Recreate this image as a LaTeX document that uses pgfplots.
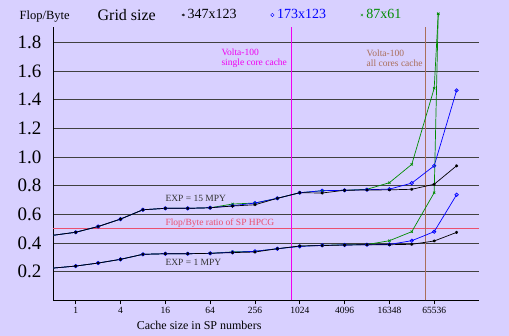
\documentclass[border=0pt]{standalone}
\usepackage{pgfplots}
\pgfplotsset{compat=1.18}
\usepackage{fontspec}
\setmainfont{Liberation Serif}
\definecolor{bgcol}{RGB}{216,208,255}
\definecolor{voltamag}{RGB}{240,0,240}
\definecolor{voltabrn}{RGB}{170,110,90}
\definecolor{hpcgred}{RGB}{235,80,110}
\definecolor{grn}{RGB}{0,140,0}
\pgfplotstableread{
x y
9.63 0
9.63 1.91
}\magline
\pgfplotstableread{
x y
15.61 0
15.61 1.91
}\brnline
\begin{document}
\begin{tikzpicture}
\fill[bgcol] (-53.3pt,-35.7pt) rectangle (455.7pt,300.3pt);
\begin{axis}[
  at={(0pt,0pt)}, anchor=south west,
  scale only axis, width=425.7pt, height=273.6pt,
  xmin=-1, xmax=18, ymin=0, ymax=1.91,
  axis x line=bottom, axis y line=left,
  axis line style={-, line width=1pt, black},
  clip=false,
  xtick={0,2,4,6,8,10,12,14,16},
  xticklabels={1,4,16,64,256,1024,4096,16348,65536},
  ytick={0.2,0.4,0.6,0.8,1.0,1.2,1.4,1.6,1.8},
  yticklabels={0.2,0.4,0.6,0.8,1.0,1.2,1.4,1.6,1.8},
  tick align=outside, major tick length=4pt,
  xtick style={black, line width=0.8pt},
  ytick style={draw=none},
  ymajorgrids, grid style={black!75, line width=0.8pt},
  yticklabel style={font=\fontsize{19}{19}\selectfont, inner sep=0pt, xshift=-7.6pt},
  xticklabel style={font=\fontsize{9.5}{9.5}\selectfont, inner sep=0pt, yshift=-2.4pt},
  legend columns=3,
  legend style={draw=none, fill=none, at={(0.2279,1.0428)}, anchor=west,
    inner sep=0pt, column sep=0pt, font=\fontsize{14}{14}\selectfont,
    nodes={inner xsep=3pt, inner ysep=1pt}},
  legend image code/.code={\path[draw=none,fill=none] (-32.7pt,0pt) (1.5pt,0pt);
    \draw[#1] plot coordinates {(0pt,0pt)};},
]
\addlegendimage{only marks, mark=asterisk, mark size=1.5pt, black}
\addlegendentry{\textcolor{black}{347x123}}
\addlegendimage{only marks, mark=o, mark size=1.7pt, blue}
\addlegendentry{\textcolor{blue}{173x123}}
\addlegendimage{only marks, mark=x, mark size=1.6pt, grn}
\addlegendentry{\textcolor{grn}{87x61}}

% reference lines
\addplot[draw=hpcgred, line width=1.4pt, forget plot] coordinates {(-1,0.5) (18,0.5)};
\addplot[draw=voltamag, line width=1.6pt, forget plot] table[x=x, y=y] {\magline};
\addplot[draw=voltabrn, line width=1.6pt, forget plot] table[x=x, y=y] {\brnline};

% EXP = 15 MPY
\addplot[grn, line width=0.7pt, mark=x, mark size=1.6pt, mark indices={2,...,30}, forget plot] coordinates {
(-1,0.454) (0,0.475) (1,0.515) (2,0.567) (3,0.632) (4,0.642) (5,0.642) (6,0.646)
(7,0.672) (8,0.679) (9,0.712) (10,0.751) (11,0.765) (12,0.768) (13,0.775) (14,0.821)
(15,0.949) (16,1.48) (16.18,2.0)};
\addplot[blue, line width=0.7pt, mark=o, mark size=1.7pt, mark indices={2,...,30}, forget plot] coordinates {
(-1,0.454) (0,0.475) (1,0.515) (2,0.567) (3,0.632) (4,0.642) (5,0.642) (6,0.646)
(7,0.660) (8,0.679) (9,0.712) (10,0.751) (11,0.765) (12,0.768) (13,0.772) (14,0.776)
(15,0.818) (16,0.939) (17,1.465)};
\addplot[black, line width=0.7pt, mark=asterisk, mark size=1.5pt, mark indices={2,...,30}, forget plot] coordinates {
(-1,0.454) (0,0.475) (1,0.515) (2,0.567) (3,0.632) (4,0.642) (5,0.642) (6,0.646)
(7,0.658) (8,0.667) (9,0.712) (10,0.751) (11,0.749) (12,0.768) (13,0.770) (14,0.771)
(15,0.775) (16,0.810) (17,0.939)};

% EXP = 1 MPY
\addplot[grn, line width=0.7pt, mark=x, mark size=1.6pt, mark indices={2,...,30}, forget plot] coordinates {
(-1,0.225) (0,0.239) (1,0.260) (2,0.286) (3,0.321) (4,0.325) (5,0.325) (6,0.328)
(7,0.338) (8,0.342) (9,0.360) (10,0.378) (11,0.384) (12,0.387) (13,0.389) (14,0.416)
(15,0.479) (16,0.751) (16.18,2.0)};
\addplot[blue, line width=0.7pt, mark=o, mark size=1.7pt, mark indices={2,...,30}, forget plot] coordinates {
(-1,0.225) (0,0.239) (1,0.260) (2,0.286) (3,0.321) (4,0.325) (5,0.325) (6,0.328)
(7,0.335) (8,0.342) (9,0.360) (10,0.376) (11,0.384) (12,0.386) (13,0.388) (14,0.390)
(15,0.416) (16,0.479) (17,0.737)};
\addplot[black, line width=0.7pt, mark=asterisk, mark size=1.5pt, mark indices={2,...,30}, forget plot] coordinates {
(-1,0.225) (0,0.239) (1,0.260) (2,0.286) (3,0.321) (4,0.325) (5,0.325) (6,0.328)
(7,0.333) (8,0.337) (9,0.360) (10,0.379) (11,0.382) (12,0.386) (13,0.388) (14,0.388)
(15,0.391) (16,0.414) (17,0.474)};

% annotations
\node[anchor=west, align=left, inner sep=0pt, text=voltamag, font=\fontsize{9.5}{10.3}\selectfont]
  at (axis cs:6.5,1.692) {Volta-100\\single core cache};
\node[anchor=west, align=left, inner sep=0pt, text=voltabrn, font=\fontsize{9.5}{10.3}\selectfont]
  at (axis cs:12.98,1.692) {Volta-100\\all cores cache};
\node[anchor=west, inner sep=0pt, text=black!80, font=\fontsize{9.5}{9.5}\selectfont]
  at (axis cs:4.0,0.709) {EXP = 15 MPY};
\node[anchor=west, inner sep=0pt, text=hpcgred, font=\fontsize{9.5}{9.5}\selectfont]
  at (axis cs:4.0,0.5415) {Flop/Byte ratio of SP HPCG};
\node[anchor=west, inner sep=0pt, text=black!80, font=\fontsize{9.5}{9.5}\selectfont]
  at (axis cs:4.0,0.265) {EXP = 1 MPY};
\node[inner sep=0pt, font=\fontsize{12.5}{12.5}\selectfont]
  at (axis cs:-1.384,1.984) {Flop/Byte};
\node[inner sep=0pt, font=\fontsize{16}{16}\selectfont]
  at (axis cs:2.277,1.991) {Grid size};
\node[inner sep=0pt, font=\fontsize{12}{12}\selectfont]
  at (axis cs:5.51,-0.172) {Cache size in SP numbers};
\end{axis}
\end{tikzpicture}
\end{document}
